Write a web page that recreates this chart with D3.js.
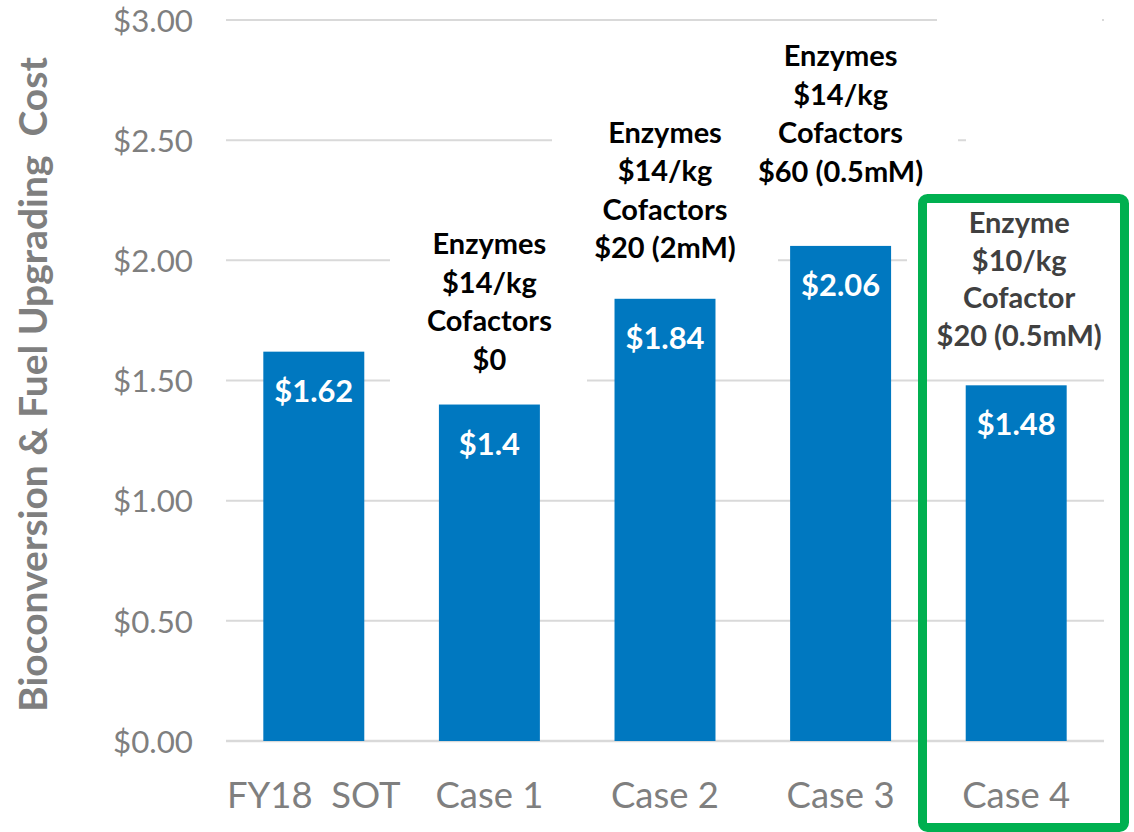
<!DOCTYPE html>
<html>
<head>
<meta charset="utf-8">
<script src="https://cdn.jsdelivr.net/npm/d3@7/dist/d3.min.js"></script>
<style>
  html, body { margin: 0; padding: 0; background: #ffffff; }
  svg { display: block; }
  text { font-family: Lato, "Open Sans", "DejaVu Sans", sans-serif; white-space: pre; }
</style>
</head>
<body>
<svg id="chart" width="1134" height="832"></svg>
<script>
// ---------- data ----------
const categories = ["FY18  SOT", "Case 1", "Case 2", "Case 3", "Case 4"];
const costs = [1.62, 1.4, 1.84, 2.06, 1.48];
const valueLabels = ["$1.62", "$1.4", "$1.84", "$2.06", "$1.48"];
const yTicks = [0, 0.5, 1, 1.5, 2, 2.5, 3];
const yTickLabels = ["$0.00", "$0.50", "$1.00", "$1.50", "$2.00", "$2.50", "$3.00"];
const annotations = [
  [],
  ["Enzymes", "$14/kg", "Cofactors", "$0"],
  ["Enzymes", "$14/kg", "Cofactors", "$20 (2mM)"],
  ["Enzymes", "$14/kg", "Cofactors", "$60 (0.5mM)"],
  ["Enzyme", "$10/kg", "Cofactor", "$20 (0.5mM)"]
];
const yTitle = "Bioconversion & Fuel Upgrading  Cost";

// ---------- layout ----------
const W = 1134, H = 832;
const plot = { left: 226, right: 1104, top: 20, bottom: 741 };
const annFirstBaseline = [null, 254, 143, 66, 233];
const annLineGap = [0, 38.6, 38.3, 38.5, 37.7];
const annColors = ["#000", "#000", "#000", "#000", "#404040"];
// white backgrounds of the annotation text boxes (they hide gridlines)
const textBoxes = [
  { x0: 390, x1: 587, y0: 222, y1: 386 },
  { x0: 552, x1: 778, y0: 108, y1: 268 },
  { x0: 724, x1: 958, y0: 30, y1: 192 },
  { x0: 907, x1: 1106, y0: 200, y1: 356 },
  { x0: 937, x1: 1102, y0: 10, y1: 28 },
  { x0: 966, x1: 1106, y0: 128, y1: 150 }
];

const svg = d3.select("#chart");

const x = d3.scaleBand().domain(categories)
  .range([plot.left, plot.right]).paddingInner(0.425).paddingOuter(0.2125);
const y = d3.scaleLinear().domain([0, 3]).range([plot.bottom, plot.top]);

// font fitting helper: returns font size so that `str` measures `target` px
function fitSize(str, weight, target) {
  const t = svg.append("text").attr("font-size", 100).attr("font-weight", weight).text(str);
  const w = t.node().getComputedTextLength();
  t.remove();
  return 100 * target / w;
}
const tickSize = fitSize("$3.00", 400, 80);
const catSize = fitSize("Case 1", 400, 108);
const valSize = fitSize("$1.62", 700, 79);
const annSize = fitSize("Cofactors", 700, 125);
const titleSize = fitSize(yTitle, 700, 655);

// ---------- gridlines ----------
const grid = svg.append("g");
grid.selectAll("line.grid").data(yTicks.filter(d => d > 0)).join("line")
  .attr("class", "grid")
  .attr("x1", plot.left).attr("x2", plot.right)
  .attr("y1", d => y(d)).attr("y2", d => y(d))
  .attr("stroke", "#d9d9d9").attr("stroke-width", 2);
grid.append("line")
  .attr("x1", plot.left).attr("x2", plot.right)
  .attr("y1", y(0)).attr("y2", y(0))
  .attr("stroke", "#d9d9d9").attr("stroke-width", 2.5);

// text-box backgrounds
svg.append("g").selectAll("rect").data(textBoxes).join("rect")
  .attr("x", d => d.x0).attr("y", d => d.y0)
  .attr("width", d => d.x1 - d.x0).attr("height", d => d.y1 - d.y0)
  .attr("fill", "#ffffff");

// ---------- y axis labels ----------
const yAxis = d3.axisLeft(y).tickValues(yTicks)
  .tickFormat((d, i) => yTickLabels[i]).tickSize(0).tickPadding(0);
const yg = svg.append("g").attr("transform", `translate(193,0)`).call(yAxis);
yg.select(".domain").remove();
yg.selectAll("text")
  .attr("font-family", "Lato, 'Open Sans', sans-serif")
  .attr("font-size", tickSize).attr("fill", "#7f7f7f")
  .attr("dy", "0.36em").attr("x", 0);

// ---------- bars ----------
const bars = svg.append("g");
bars.selectAll("rect").data(categories).join("rect")
  .attr("x", d => x(d))
  .attr("width", x.bandwidth())
  .attr("y", (d, i) => y(costs[i]))
  .attr("height", (d, i) => y(0) - y(costs[i]))
  .attr("fill", "#0078c0");

bars.selectAll("text").data(categories).join("text")
  .attr("x", d => x(d) + x.bandwidth() / 2)
  .attr("y", (d, i) => y(costs[i]) + 50)
  .attr("text-anchor", "middle")
  .attr("font-weight", 700)
  .attr("font-size", valSize)
  .attr("fill", "#ffffff")
  .text((d, i) => valueLabels[i]);

// ---------- x axis labels ----------
const xAxis = d3.axisBottom(x).tickSize(0).tickPadding(0);
const xg = svg.append("g").attr("transform", `translate(0,808)`).call(xAxis);
xg.select(".domain").remove();
xg.selectAll("text")
  .attr("font-family", "Lato, 'Open Sans', sans-serif")
  .attr("font-size", catSize).attr("fill", "#7f7f7f")
  .attr("dy", 0).attr("y", 0)
  .style("white-space", "pre");

// ---------- annotations ----------
const ann = svg.append("g");
categories.forEach((c, i) => {
  const lines = annotations[i];
  lines.forEach((ln, j) => {
    ann.append("text")
      .attr("x", x(c) + x.bandwidth() / 2 + (i === 4 ? 3 : 0))
      .attr("y", annFirstBaseline[i] + j * annLineGap[i])
      .attr("text-anchor", "middle")
      .attr("font-weight", 700)
      .attr("font-size", annSize)
      .attr("fill", annColors[i])
      .text(ln);
  });
});

// ---------- highlight frame around Case 4 ----------
svg.append("rect")
  .attr("x", 922.5).attr("y", 198.5)
  .attr("width", 202).attr("height", 629)
  .attr("rx", 5).attr("ry", 5)
  .attr("fill", "none")
  .attr("stroke", "#00b050").attr("stroke-width", 9);

// ---------- y title ----------
svg.append("text")
  .attr("transform", `translate(47,${(57 + 712) / 2}) rotate(-90)`)
  .attr("text-anchor", "middle")
  .attr("font-weight", 700)
  .attr("font-size", titleSize)
  .attr("fill", "#7f7f7f")
  .text(yTitle);
</script>
</body>
</html>
